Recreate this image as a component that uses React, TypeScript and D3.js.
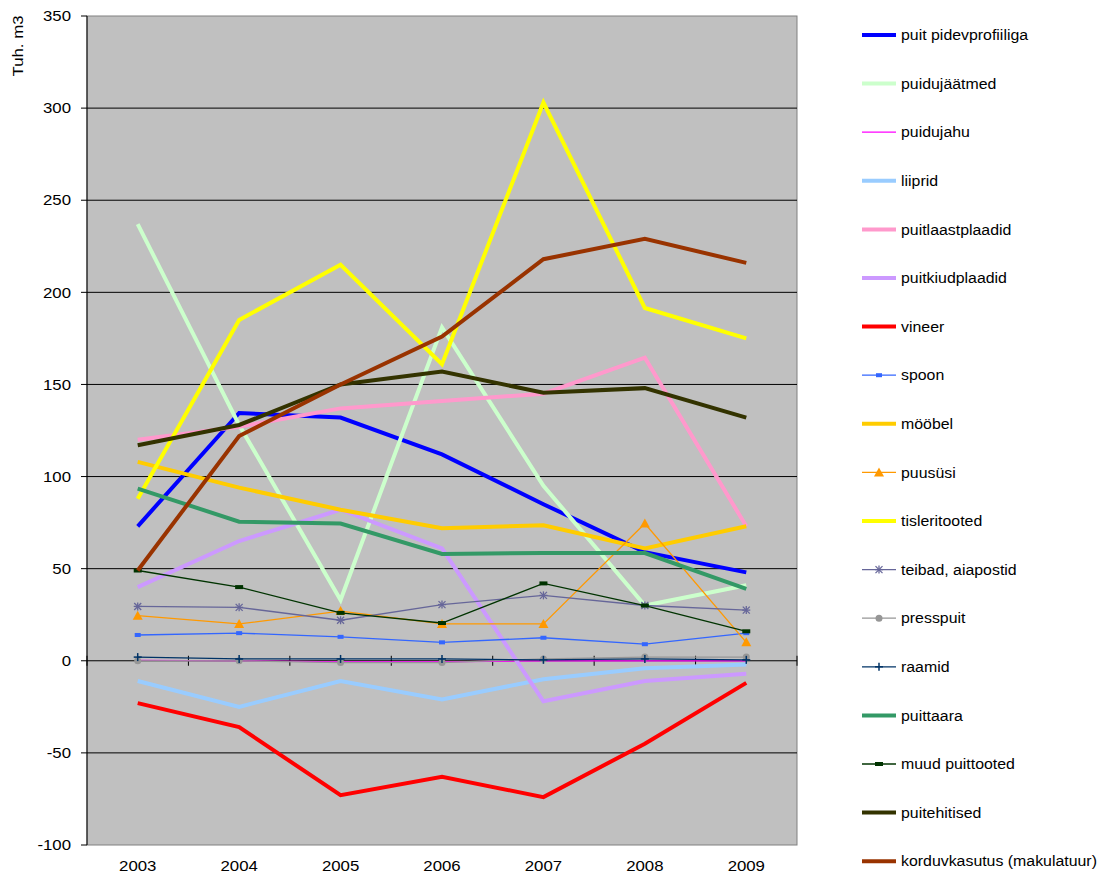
import React from "react";
import * as d3 from "d3";

const years = ["2003", "2004", "2005", "2006", "2007", "2008", "2009"];
const yTicks = [-100, -50, 0, 50, 100, 150, 200, 250, 300, 350];

const puitPidevprofiiliga = [73, 134.5, 132, 112, 85, 59, 48];
const puidujaatmed = [237, 128, 33, 181, 95, 30, 41];
const puidujahu = [0.3, 0, -0.6, -0.6, 0, 0, 0];
const liiprid = [-11, -25, -11, -21, -10, -4, -2];
const puitlaastplaadid = [120, 127, 137, 141, 145, 164.5, 73];
const puitkiudplaadid = [40, 65, 82, 61, -22, -11, -7];
const vineer = [-23, -36, -73, -63, -74, -45, -12];
const spoon = [14, 15, 13, 10, 12.5, 9, 15];
const moobel = [108, 94, 82, 72, 73.5, 61, 73];
const puususi = [24.5, 20, 27, 20, 20, 74.5, 10];
const tisleritooted = [88, 185, 215, 161, 303, 191.5, 175];
const teibad = [29.5, 29, 22, 30.5, 35.5, 30, 27.5];
const presspuit = [0, 0, -1, -1, 1, 2, 2];
const raamid = [2, 1, 1, 1, 0.5, 1, 0.5];
const puittaara = [93.5, 75.5, 74.5, 58, 58.5, 58.5, 39];
const muudPuittooted = [49, 40, 26, 20.5, 42, 30, 16];
const puitehitised = [117, 128, 150, 157, 145.5, 148, 132];
const korduvkasutus = [49, 122, 150, 176, 218, 229, 216];

type Marker = "none" | "square" | "triangle" | "star" | "circle" | "plus" | "dash";
interface Series { name: string; values: number[]; color: string; width: number; marker: Marker }

const series: Series[] = [
  { name: "puit pidevprofiiliga", values: puitPidevprofiiliga, color: "#0000FF", width: 4, marker: "none" },
  { name: "puidujäätmed", values: puidujaatmed, color: "#CCFFCC", width: 4, marker: "none" },
  { name: "puidujahu", values: puidujahu, color: "#FF00FF", width: 1.2, marker: "none" },
  { name: "liiprid", values: liiprid, color: "#99CCFF", width: 4, marker: "none" },
  { name: "puitlaastplaadid", values: puitlaastplaadid, color: "#FF99CC", width: 4, marker: "none" },
  { name: "puitkiudplaadid", values: puitkiudplaadid, color: "#CC99FF", width: 4, marker: "none" },
  { name: "vineer", values: vineer, color: "#FF0000", width: 4, marker: "none" },
  { name: "spoon", values: spoon, color: "#3366FF", width: 1.3, marker: "square" },
  { name: "mööbel", values: moobel, color: "#FFCC00", width: 4, marker: "none" },
  { name: "puusüsi", values: puususi, color: "#FF9900", width: 1.3, marker: "triangle" },
  { name: "tisleritooted", values: tisleritooted, color: "#FFFF00", width: 4, marker: "none" },
  { name: "teibad, aiapostid", values: teibad, color: "#666699", width: 1.3, marker: "star" },
  { name: "presspuit", values: presspuit, color: "#969696", width: 1.3, marker: "circle" },
  { name: "raamid", values: raamid, color: "#003366", width: 1.3, marker: "plus" },
  { name: "puittaara", values: puittaara, color: "#339966", width: 4, marker: "none" },
  { name: "muud puittooted", values: muudPuittooted, color: "#003300", width: 1.3, marker: "dash" },
  { name: "puitehitised", values: puitehitised, color: "#333300", width: 4, marker: "none" },
  { name: "korduvkasutus (makulatuur)", values: korduvkasutus, color: "#993300", width: 4, marker: "none" },
];

const PL = 87, PR = 797, PT = 16, PB = 845;
const FONT = "Arial, 'Liberation Sans', sans-serif";

function T({ x, y, anchor = "start", size = 15, sx = 1.12, children, rotate = 0 }: { x: number; y: number; anchor?: "start" | "middle" | "end"; size?: number; sx?: number; children: React.ReactNode; rotate?: number }) {
  return (
    <text
      transform={`translate(${x},${y}) rotate(${rotate}) scale(${sx},1)`}
      dy="0.35em"
      textAnchor={anchor}
      fontSize={size}
      fill="#000"
    >
      {children}
    </text>
  );
}

function MarkerShape({ type, x, y, color }: { type: Marker; x: number; y: number; color: string }) {
  switch (type) {
    case "square":
      return <rect x={x - 3} y={y - 2} width={6} height={4} fill={color} />;
    case "triangle":
      return <path d={`M${x},${y - 5}L${x + 5},${y + 4}L${x - 5},${y + 4}Z`} fill={color} />;
    case "star":
      return (
        <g stroke={color} strokeWidth={1.3}>
          <line x1={x - 3.5} y1={y - 3.5} x2={x + 3.5} y2={y + 3.5} />
          <line x1={x - 3.5} y1={y + 3.5} x2={x + 3.5} y2={y - 3.5} />
          <line x1={x} y1={y - 4} x2={x} y2={y + 4} />
          <line x1={x - 4} y1={y} x2={x + 4} y2={y} />
        </g>
      );
    case "circle":
      return <circle cx={x} cy={y} r={3.5} fill={color} />;
    case "plus":
      return (
        <g stroke={color} strokeWidth={1.5}>
          <line x1={x} y1={y - 4} x2={x} y2={y + 4} />
          <line x1={x - 4} y1={y} x2={x + 4} y2={y} />
        </g>
      );
    case "dash":
      return <rect x={x - 4} y={y - 2} width={8} height={4} fill={color} />;
    default:
      return null;
  }
}

export default function App() {
  const x = d3.scaleBand<string>().domain(years).range([PL, PR]);
  const y = d3.scaleLinear().domain([-100, 350]).range([PB, PT]);
  const cx = (yr: string) => (x(yr) as number) + x.bandwidth() / 2;
  const line = d3
    .line<number>()
    .x((_, i) => cx(years[i]))
    .y((v) => y(v));

  const boundaries = d3.range(years.length + 1).map((i) => PL + i * x.bandwidth());

  return (
    <svg
      width={1105}
      height={877}
      style={{ position: "absolute", left: 0, top: 0, background: "#fff" }}
      fontFamily={FONT}
    >
      <rect x={PL} y={PT} width={PR - PL} height={PB - PT} fill="#C0C0C0" stroke="#808080" strokeWidth={1} />
      {yTicks
        .filter((t) => t !== 0 && t !== -100 && t !== 350)
        .map((t) => (
          <line key={t} x1={PL} x2={PR} y1={y(t)} y2={y(t)} stroke="#000" strokeWidth={1} />
        ))}
      <line x1={PL} x2={PL} y1={PT} y2={PB} stroke="#000" strokeWidth={1} />
      {yTicks.map((t) => (
        <g key={t}>
          <line x1={PL - 6} x2={PL} y1={y(t)} y2={y(t)} stroke="#000" />
          <T x={PL - 16} y={y(t)} anchor="end">{t}</T>
        </g>
      ))}
      <line x1={PL} x2={PR} y1={y(0)} y2={y(0)} stroke="#000" strokeWidth={1} />
      {boundaries.map((b, i) => (
        <line key={i} x1={b} x2={b} y1={y(0) - 5} y2={y(0) + 5} stroke="#000" />
      ))}
      {years.map((yr) => (
        <T key={yr} x={cx(yr)} y={866} anchor="middle">{yr}</T>
      ))}
      <T x={18} y={46} anchor="middle" rotate={-90}>Tuh. m3</T>

      {series.map((s) => (
        <g key={s.name}>
          <path d={line(s.values) || ""} fill="none" stroke={s.color} strokeWidth={s.width} strokeLinejoin="miter" />
          {s.marker !== "none" &&
            s.values.map((v, i) => (
              <MarkerShape key={i} type={s.marker} x={cx(years[i])} y={y(v)} color={s.color} />
            ))}
        </g>
      ))}

      {series.map((s, i) => {
        const ly = 35 + i * 48.6;
        return (
          <g key={s.name}>
            <line x1={862} x2={896} y1={ly} y2={ly} stroke={s.color} strokeWidth={s.width} />
            {s.marker !== "none" && <MarkerShape type={s.marker} x={879} y={ly} color={s.color} />}
            <T x={901} y={ly} sx={1.06}>{s.name}</T>
          </g>
        );
      })}
    </svg>
  );
}
